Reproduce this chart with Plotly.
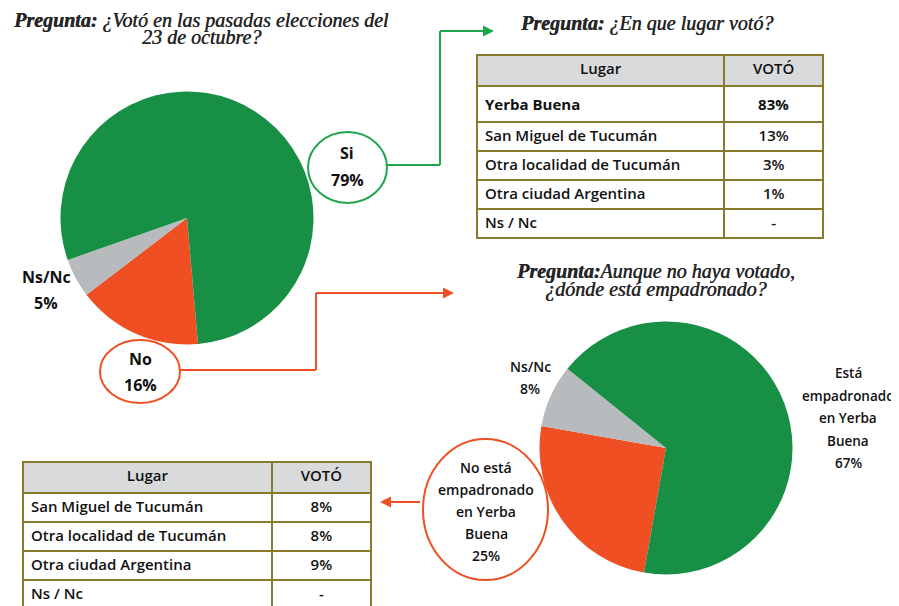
import textwrap
import plotly.graph_objects as go

W, H = 899, 606
OFF = 8  # page body margin: figure starts 8px from the window corner

# ---------------- data ----------------
q1_title = "¿Votó en las pasadas elecciones del<br>23 de octubre?"
q1_labels = ["No", "Ns/Nc", "Si"]
q1_values = [16, 5, 79]

q2_title = "¿En que lugar votó?"
table_header = ["Lugar", "VOTÓ"]
t1_places = ["Yerba Buena", "San Miguel de Tucumán", "Otra localidad de Tucumán",
             "Otra ciudad Argentina", "Ns / Nc"]
t1_votes = ["83%", "13%", "3%", "1%", "-"]

q3_title = "Aunque no haya votado,<br>¿dónde está empadronado?"
q3_labels = ["No está empadronado en Yerba Buena", "Ns/Nc", "Está empadronado en Yerba Buena"]
q3_values = [25, 8, 67]

t2_places = ["San Miguel de Tucumán", "Otra localidad de Tucumán",
             "Otra ciudad Argentina", "Ns / Nc"]
t2_votes = ["8%", "8%", "9%", "-"]

# ---------------- styles ----------------
GREEN = "#178F45"
ORANGE = "#F04E23"
GRAY = "#B7BBBE"
GREEN_LINE = "#1FA64C"
OLIVE = "#8A7A2C"
HEAD_FILL = "#D8DADC"
TXT = "#111111"
TITLE_C = "#262626"
SANS = "Open Sans"
SERIF = "Liberation Serif"


def px(x):
    return (x - OFF) / W


def py(y):
    return 1 - (y - OFF) / H


def pie_domain(cx, cy, r):
    return dict(x=[px(cx - r), px(cx + r)], y=[py(cy + r), py(cy - r)])


fig = go.Figure()

fig.add_trace(go.Pie(
    labels=q1_labels, values=q1_values, sort=False, direction="clockwise",
    rotation=175, textinfo="none", hoverinfo="label+percent",
    marker=dict(colors=[ORANGE, GRAY, GREEN], line=dict(width=0)),
    domain=pie_domain(187, 218, 126.5), showlegend=False))

fig.add_trace(go.Pie(
    labels=q3_labels, values=q3_values, sort=False, direction="clockwise",
    rotation=190, textinfo="none", hoverinfo="label+percent",
    marker=dict(colors=[ORANGE, GRAY, GREEN], line=dict(width=0)),
    domain=pie_domain(666, 448, 126.5), showlegend=False))


def make_table(places, votes, x0, x1, ytop, ybot, bold_first, cell_h):
    cell_text = [("<b>%s</b>" % p if (bold_first and i == 0) else p) for i, p in enumerate(places)]
    vote_text = [("<b>%s</b>" % v if (bold_first and i == 0) else v) for i, v in enumerate(votes)]
    return go.Table(
        domain=dict(x=[px(x0), px(x1)], y=[max(0, py(ybot)), py(ytop)]),
        columnwidth=[248, 99],
        header=dict(values=table_header, fill_color=HEAD_FILL,
                    line=dict(color=OLIVE, width=2), align="center", height=31,
                    font=dict(family=SANS, size=15, color=TXT, weight=600)),
        cells=dict(values=[cell_text, vote_text], fill_color="white",
                   line=dict(color=OLIVE, width=2), align=["left", "center"], height=cell_h,
                   font=dict(family=SANS, size=15, color=TXT, weight=600)),
    )


fig.add_trace(make_table(t1_places, t1_votes, 477, 824, 55, 240, True, 29))
fig.add_trace(make_table(t2_places, t2_votes, 23, 371, 462, 614, False, 29))

shapes = []
annotations = []


def text(s, x, y, size, bold=False, family=SANS, color=TXT, weight=None):
    f = dict(family=family, size=size, color=color)
    if weight:
        f["weight"] = weight
    annotations.append(dict(
        text="<b>%s</b>" % s if bold else s, x=px(x), y=py(y), xref="paper", yref="paper",
        showarrow=False, xanchor="center", yanchor="middle", font=f))


def stacked(lines, cx, y0, dy, size, bold=False, weight=None):
    for i, ln in enumerate(lines):
        text(ln, cx, y0 + i * dy, size, bold, weight=weight)


def line(x0, y0, x1, y1, color):
    shapes.append(dict(type="line", xref="paper", yref="paper",
                       x0=px(x0), y0=py(y0), x1=px(x1), y1=py(y1),
                       line=dict(color=color, width=2)))


def ellipse(x0, y0, x1, y1, color):
    shapes.append(dict(type="circle", xref="paper", yref="paper",
                       x0=px(x0), y0=py(y1), x1=px(x1), y1=py(y0),
                       line=dict(color=color, width=2), fillcolor="white", layer="above"))


def arrowhead(x, y, dx, color):
    # dx > 0: arrow points right; dx < 0: arrow points left
    annotations.append(dict(x=px(x), y=py(y), xref="paper", yref="paper", text="",
                            showarrow=True, ax=-dx, ay=0, arrowhead=2, arrowsize=1.1,
                            arrowwidth=2, arrowcolor=color, standoff=0))


def title(lines, cx, y0, dy, size):
    for i, ln in enumerate(lines):
        annotations.append(dict(
            text=ln, x=px(cx), y=py(y0 + i * dy), xref="paper", yref="paper",
            showarrow=False, xanchor="center", yanchor="middle",
            font=dict(family=SERIF, size=size, color=TITLE_C,
                      shadow="0.45px 0px 0px %s" % TITLE_C)))


t1 = q1_title.split("<br>")
title(["<b><i>Pregunta:</i></b> <i>%s</i>" % t1[0], "<i>%s</i>" % t1[1]], 201, 21, 16, 20)
title(["<b><i>Pregunta:</i></b> <i>%s</i>" % q2_title], 646, 24, 18, 20)
t3 = q3_title.split("<br>")
title(["<b><i>Pregunta:</i></b><i>%s</i>" % t3[0], "<i>%s</i>" % t3[1]], 655, 271, 18, 20)

# connectors (green)
line(387, 165, 440, 165, GREEN_LINE)
line(440, 165, 440, 31, GREEN_LINE)
line(440, 31, 486, 31, GREEN_LINE)
arrowhead(494, 31, 12, GREEN_LINE)
# connectors (orange)
line(180, 370, 316, 370, ORANGE)
line(316, 370, 316, 293, ORANGE)
line(316, 293, 446, 293, ORANGE)
arrowhead(454, 293, 12, ORANGE)
line(420, 502, 388, 502, ORANGE)
arrowhead(380, 502, -12, ORANGE)

# ellipses
ellipse(308, 132, 387, 203, GREEN_LINE)
ellipse(100, 340, 180, 403, ORANGE)
ellipse(423, 439, 548, 580, ORANGE)

fig.update_layout(shapes=shapes)

# pie 1 labels
lab1 = dict(zip(q1_labels, q1_values))
stacked(["Si", "%d%%" % lab1["Si"]], 347, 153, 27, 16, True)
stacked(["No", "%d%%" % lab1["No"]], 140, 359, 26, 16, True)
stacked(["Ns/Nc", "%d%%" % lab1["Ns/Nc"]], 46, 277, 26, 16, True)

# pie 2 labels
lab3 = dict(zip(q3_labels, q3_values))
for name, cx, y0, dy, size in [(q3_labels[2], 848, 373, 22.5, 13.5),
                               (q3_labels[0], 486, 467, 22.2, 14),
                               (q3_labels[1], 530, 366, 22, 14)]:
    lines = textwrap.wrap(name, 11) + ["%d%%" % lab3[name]]
    stacked(lines, cx, y0, dy, size, weight=600)

fig.update_layout(
    width=W, height=H, autosize=False,
    margin=dict(l=0, r=0, t=0, b=0),
    paper_bgcolor="white", plot_bgcolor="white",
    annotations=annotations,
    showlegend=False,
)

fig.write_html("out.html")
